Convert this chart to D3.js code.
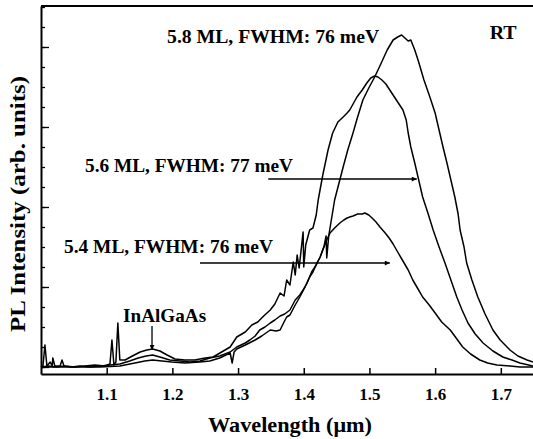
<!DOCTYPE html>
<html>
<head>
<meta charset="utf-8">
<script src="https://cdn.jsdelivr.net/npm/d3@7"></script>
<style>
  body { margin: 0; background: #fff; }
</style>
</head>
<body>
<div id="chart"></div>
<script>
// wavelength (um) and PL intensity (arb. units)
const wl58 = [1.000,1.011,1.023,1.035,1.047,1.059,1.075,1.090,1.105,1.120,1.135,1.148,1.160,1.170,1.181,1.196,1.212,1.227,1.242,1.257,1.272,1.288,1.298,1.311,1.318,1.326,1.333,1.341,1.349,1.356,1.364,1.371,1.379,1.387,1.394,1.399,1.405,1.412,1.419,1.425,1.431,1.434,1.435,1.438,1.447,1.460,1.467,1.475,1.482,1.490,1.499,1.508,1.518,1.527,1.536,1.543,1.549,1.554,1.559,1.563,1.569,1.574,1.583,1.592,1.600,1.606,1.612,1.618,1.624,1.630,1.635,1.638,1.644,1.648,1.656,1.665,1.676,1.688,1.699,1.714,1.726,1.740,1.749]
const pl58 = [0.00,0.05,0.00,0.05,0.00,0.05,0.00,0.05,0.10,0.15,0.30,0.45,0.55,0.60,0.50,0.35,0.30,0.25,0.30,0.45,0.55,0.75,1.00,1.20,1.35,1.55,1.85,2.00,2.20,2.35,2.55,2.65,2.85,3.35,3.60,3.85,4.20,4.75,5.10,5.50,6.05,6.55,5.45,6.55,8.35,10.00,10.85,11.70,12.50,13.35,13.95,14.50,15.20,15.85,16.35,16.50,16.60,16.45,16.30,16.35,15.85,15.35,14.35,13.50,12.70,11.85,11.00,10.20,9.35,8.50,7.65,6.85,6.00,5.20,4.35,3.50,2.65,1.85,1.35,0.85,0.55,0.35,0.25]

const wl56 = [1.000,1.003,1.006,1.009,1.014,1.017,1.018,1.021,1.029,1.032,1.035,1.052,1.067,1.082,1.097,1.105,1.108,1.111,1.114,1.117,1.120,1.128,1.139,1.151,1.161,1.170,1.181,1.192,1.204,1.219,1.234,1.250,1.262,1.275,1.288,1.298,1.311,1.321,1.330,1.339,1.349,1.356,1.364,1.370,1.374,1.379,1.384,1.387,1.390,1.393,1.396,1.399,1.400,1.403,1.409,1.414,1.419,1.422,1.429,1.437,1.444,1.452,1.460,1.466,1.470,1.481,1.489,1.496,1.502,1.508,1.513,1.519,1.525,1.531,1.536,1.542,1.546,1.551,1.556,1.559,1.563,1.569,1.575,1.581,1.589,1.597,1.606,1.615,1.624,1.633,1.641,1.650,1.661,1.673,1.688,1.703,1.717,1.729,1.749]
const pl56 = [0.00,0.05,1.10,0.05,0.25,0.05,0.45,0.05,0.05,0.35,0.05,0.00,0.05,0.10,0.05,0.15,1.35,0.10,0.25,2.20,0.35,0.35,0.55,0.75,0.85,0.90,0.80,0.60,0.40,0.35,0.35,0.45,0.50,0.75,1.00,1.50,1.75,2.10,2.25,2.55,2.85,3.15,3.70,3.55,4.35,4.10,5.25,4.60,5.60,4.95,5.85,6.75,5.00,6.10,6.85,6.95,7.60,8.35,9.60,10.85,11.70,12.25,12.50,12.70,12.85,13.50,13.85,14.20,14.45,14.55,14.50,14.35,14.15,13.85,13.60,13.30,13.10,12.85,12.35,11.70,11.00,10.20,9.35,8.50,7.70,6.85,6.00,5.20,4.35,3.50,2.85,2.20,1.65,1.20,0.80,0.50,0.35,0.20,0.05]

const wl54 = [1.000,1.029,1.059,1.090,1.120,1.143,1.158,1.170,1.184,1.199,1.219,1.242,1.257,1.272,1.288,1.291,1.294,1.298,1.311,1.326,1.336,1.349,1.358,1.364,1.370,1.374,1.379,1.387,1.394,1.402,1.409,1.414,1.420,1.425,1.429,1.435,1.440,1.447,1.455,1.461,1.466,1.470,1.475,1.482,1.489,1.493,1.499,1.504,1.510,1.516,1.524,1.530,1.536,1.543,1.551,1.559,1.566,1.574,1.581,1.591,1.600,1.610,1.623,1.632,1.642,1.654,1.668,1.680,1.694,1.714,1.729,1.749]
const pl54 = [0.00,0.00,0.00,0.00,0.05,0.20,0.30,0.35,0.30,0.25,0.20,0.25,0.30,0.45,0.70,0.20,0.75,0.90,1.10,1.35,1.55,1.85,1.80,1.85,2.25,2.50,2.60,3.10,3.50,4.00,4.50,4.75,5.20,5.50,5.85,6.35,6.70,6.95,7.20,7.35,7.45,7.50,7.55,7.65,7.65,7.70,7.60,7.45,7.25,7.00,6.70,6.45,6.15,5.75,5.30,4.85,4.35,3.90,3.50,3.10,2.70,2.25,1.85,1.45,1.00,0.65,0.35,0.20,0.10,0.05,0.00,0.00]

const xTicks = [1.1, 1.2, 1.3, 1.4, 1.5, 1.6, 1.7]

// label text with anchor point in data units
const labels = [
    { text: "5.8 ML, FWHM: 76 meV", wl: 1.192, pl: 16.2 },
    { text: "5.6 ML, FWHM: 77 meV", wl: 1.067, pl: 9.75 },
    { text: "5.4 ML, FWHM: 76 meV", wl: 1.035, pl: 5.7 },
    { text: "RT", wl: 1.683, pl: 16.4 },
    { text: "InAlGaAs", wl: 1.125, pl: 2.25 }
]
const labelWidths = [212, 208, 209, 27, 83]

// arrows: from (wl0, pl0) to (wl1, pl1)
const arrows = [
    { wl0: 1.346, pl0: 9.4, wl1: 1.572, pl1: 9.4 },
    { wl0: 1.242, pl0: 5.2, wl1: 1.531, pl1: 5.2 },
    { wl0: 1.169, pl0: 2.05, wl1: 1.169, pl1: 0.85 }
]

const series = [
    { wl: wl58, pl: pl58 },
    { wl: wl56, pl: pl56 },
    { wl: wl54, pl: pl54 }
]

const serif = "Liberation Serif"

function drawChart() {
    const W = 533, H = 439
    const margin = { top: 6, right: 0, bottom: 65, left: 41 }

    const svg = d3.select("#chart")
        .append("svg")
        .attr("width", W)
        .attr("height", H)
        .attr("font-family", serif)
        .attr("font-weight", "bold")

    const x = d3.scaleLinear()
        .domain([1.0, 1.749])
        .range([margin.left, W - margin.right])
    const y = d3.scaleLinear()
        .domain([-0.35, 18.05])
        .range([H - margin.bottom, margin.top])

    svg.append("defs").append("marker")
        .attr("id", "head")
        .attr("viewBox", "0 0 10 10")
        .attr("refX", 10).attr("refY", 5)
        .attr("markerWidth", 7).attr("markerHeight", 5)
        .attr("markerUnits", "userSpaceOnUse")
        .attr("orient", "auto")
        .append("path")
        .attr("d", "M0,0L10,5L0,10z")
        .attr("fill", "#000")

    // curves
    const line = d3.line()
        .x(d => x(d[0]))
        .y(d => y(d[1]))
    series.forEach(s => {
        svg.append("path")
            .datum(s.wl.map((w, i) => [w, s.pl[i]]))
            .attr("d", line)
            .attr("fill", "none")
            .attr("stroke", "#000")
            .attr("stroke-width", 1.5)
            .attr("stroke-linejoin", "round")
    })

    // bottom axis, ticks pointing inward
    const xAxis = svg.append("g")
        .attr("transform", "translate(0," + y.range()[0] + ")")
        .call(d3.axisBottom(x)
            .tickValues(xTicks)
            .tickFormat(d3.format(".1f"))
            .tickSizeInner(-6)
            .tickSizeOuter(0)
            .tickPadding(14))
    xAxis.attr("font-family", serif).attr("font-size", 17)
    xAxis.selectAll("text")
        .attr("font-family", serif)
        .attr("fill", "#000")
    xAxis.select(".domain").attr("stroke-width", 2)
    xAxis.selectAll(".tick line").attr("stroke-width", 1.5)

    // left axis: minor ticks every unit, long ones every 4
    const yMinor = svg.append("g")
        .attr("transform", "translate(" + margin.left + ",0)")
        .call(d3.axisLeft(y)
            .tickValues(d3.range(0, 19))
            .tickFormat("")
            .tickSizeInner(-4)
            .tickSizeOuter(0))
    yMinor.select(".domain").attr("stroke-width", 2)
    yMinor.selectAll(".tick line").attr("stroke-width", 1.3)

    svg.append("g")
        .attr("transform", "translate(" + margin.left + ",0)")
        .call(d3.axisLeft(y)
            .tickValues([0, 4, 8, 12, 16])
            .tickFormat("")
            .tickSizeInner(-8)
            .tickSizeOuter(0))
        .call(g => g.select(".domain").remove())
        .selectAll(".tick line").attr("stroke-width", 1.3)

    // top frame line
    svg.append("line")
        .attr("x1", x.range()[0]).attr("x2", x.range()[1])
        .attr("y1", y.range()[1]).attr("y2", y.range()[1])
        .attr("stroke", "#000")
        .attr("stroke-width", 1.8)

    // axis titles
    svg.append("text")
        .attr("x", 290)
        .attr("y", 432)
        .attr("text-anchor", "middle")
        .attr("font-family", serif)
        .attr("font-size", 21)
        .attr("textLength", 164)
        .attr("lengthAdjust", "spacingAndGlyphs")
        .text("Wavelength (\u03bcm)")

    svg.append("text")
        .attr("transform", "translate(25,204) rotate(-90)")
        .attr("text-anchor", "middle")
        .attr("font-family", serif)
        .attr("font-size", 21)
        .attr("textLength", 256)
        .attr("lengthAdjust", "spacingAndGlyphs")
        .text("PL Intensity (arb. units)")

    // annotations
    svg.selectAll(".note")
        .data(labels)
        .enter()
        .append("text")
        .attr("class", "note")
        .attr("x", d => x(d.wl))
        .attr("y", d => y(d.pl))
        .attr("font-family", serif)
        .attr("font-size", 19)
        .attr("textLength", (d, i) => labelWidths[i])
        .attr("lengthAdjust", "spacingAndGlyphs")
        .text(d => d.text)

    svg.selectAll(".arrow")
        .data(arrows)
        .enter()
        .append("line")
        .attr("class", "arrow")
        .attr("x1", d => x(d.wl0))
        .attr("y1", d => y(d.pl0))
        .attr("x2", d => x(d.wl1))
        .attr("y2", d => y(d.pl1))
        .attr("stroke", "#000")
        .attr("stroke-width", 1.3)
        .attr("marker-end", "url(#head)")
}

drawChart()
</script>
</body>
</html>
